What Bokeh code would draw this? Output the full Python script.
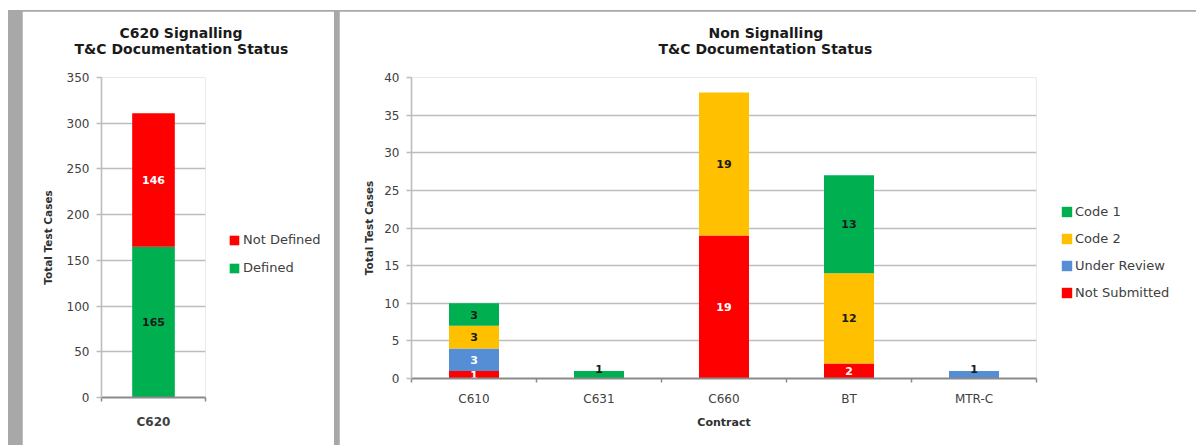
from bokeh.plotting import figure
from bokeh.models import (ColumnDataSource, Range1d, FixedTicker, Legend, LegendItem, Title)
from bokeh.layouts import row
from bokeh.embed import file_html
from bokeh.resources import INLINE
from bokeh.core.properties import value

# ---------------- data ----------------
left_categories = ["C620"]
left_defined = [165]
left_not_defined = [146]
left_yticks = [0, 50, 100, 150, 200, 250, 300, 350]

right_categories = ["C610", "C631", "C660", "BT", "MTR-C"]
not_submitted = [1, 0, 19, 2, 0]
under_review = [3, 0, 0, 0, 1]
code_2 = [3, 0, 19, 12, 0]
code_1 = [3, 1, 0, 13, 0]
right_yticks = [0, 5, 10, 15, 20, 25, 30, 35, 40]

# ---------------- style ----------------
FONT = "DejaVu Sans"
GRID = "#bdbdbd"
AXIS_DARK = "#8a8a8a"
TEXT = "#404040"
RED = "#ff0000"
GREEN = "#00b050"
YELLOW = "#ffc000"
BLUE = "#558ed5"
FRAME_BG = "#a8a8a8"


def base_style(p, yticks, ncat, cats, ystandoff):
    p.xgrid.grid_line_color = None
    p.ygrid.ticker = FixedTicker(ticks=yticks)
    p.ygrid.grid_line_color = GRID
    p.ygrid.grid_line_width = 1.6
    p.yaxis.ticker = FixedTicker(ticks=yticks)
    p.yaxis.axis_line_color = GRID
    p.yaxis.axis_line_width = 1.6
    p.yaxis.major_tick_line_color = GRID
    p.yaxis.major_tick_line_width = 1.6
    p.yaxis.major_tick_out = 5
    p.yaxis.major_tick_in = 0
    p.yaxis.minor_tick_line_color = None
    p.yaxis.major_label_standoff = 7
    p.yaxis.major_label_text_font = FONT
    p.yaxis.major_label_text_font_size = "12px"
    p.yaxis.major_label_text_color = TEXT
    p.yaxis.axis_label = "Total Test Cases"
    p.yaxis.axis_label_text_font = FONT
    p.yaxis.axis_label_text_font_size = "10.5px"
    p.yaxis.axis_label_text_font_style = "bold"
    p.yaxis.axis_label_text_color = "#303030"
    p.yaxis.axis_label_standoff = ystandoff

    centers = [i + 0.5 for i in range(ncat)]
    p.xaxis.ticker = FixedTicker(ticks=centers, minor_ticks=list(range(ncat + 1)))
    p.xaxis.major_label_overrides = {c: lab for c, lab in zip(centers, cats)}
    p.xaxis.axis_line_color = AXIS_DARK
    p.xaxis.axis_line_width = 2
    p.xaxis.major_tick_line_color = None
    p.xaxis.major_tick_out = 0
    p.xaxis.major_tick_in = 0
    p.xaxis.minor_tick_line_color = AXIS_DARK
    p.xaxis.minor_tick_line_width = 1.5
    p.xaxis.minor_tick_out = 4
    p.xaxis.minor_tick_in = 0
    p.xaxis.major_label_text_font = FONT
    p.xaxis.major_label_text_font_size = "12px"
    p.xaxis.major_label_text_color = TEXT
    p.outline_line_color = None
    p.background_fill_color = "white"
    p.border_fill_color = "white"


def add_titles(p, line1, line2, off1, off2):
    # line2 sits nearest the frame, line1 is stacked above it
    p.add_layout(Title(text=line2, align="left", offset=off2, standoff=42,
                       text_font=FONT, text_font_size="14px", text_font_style="bold",
                       text_color="#1a1a1a"), "above")
    p.add_layout(Title(text=line1, align="left", offset=off1, standoff=-46,
                       text_font=FONT, text_font_size="14px", text_font_style="bold",
                       text_color="#1a1a1a"), "above")


def stacked(p, cats, series, colors, label_colors, width):
    xs = [i + 0.5 for i in range(len(cats))]
    bottoms = [0] * len(cats)
    totals = [sum(v) for v in zip(*series)]
    rends = []
    lx, ly, lt, lc, lo = [], [], [], [], []
    for vals, col, tcol in zip(series, colors, label_colors):
        tops = [b + v for b, v in zip(bottoms, vals)]
        src = ColumnDataSource(dict(x=xs, bottom=bottoms, top=tops))
        r = p.vbar(x="x", bottom="bottom", top="top", width=width, source=src,
                   fill_color=col, line_color=None)
        rends.append(r)
        for x, b, v, t in zip(xs, bottoms, vals, totals):
            if v > 0:
                small_top = (b + v == t) and v < 2
                lx.append(x); ly.append(b + v / 2); lt.append(str(v))
                lc.append("#1a1a1a" if small_top else tcol)
                lo.append(-6 if small_top else 0)
        bottoms = tops
    lsrc = ColumnDataSource(dict(x=lx, y=ly, text=lt, color=lc, off=lo))
    p.text(x="x", y="y", text="text", source=lsrc, text_color="color", y_offset="off",
           text_font=value(FONT), text_font_size="11px", text_font_style="bold",
           text_align="center", text_baseline="middle")
    return rends


def make_legend(items, loc, glyph, standoff, spacing):
    return Legend(items=items, location=loc, padding=0, margin=0,
                  border_line_color=None, background_fill_alpha=0,
                  glyph_width=glyph, glyph_height=glyph, label_height=13,
                  label_standoff=standoff, spacing=spacing,
                  label_text_font=FONT, label_text_font_size="13px",
                  label_text_color=TEXT)


# ---------------- left chart ----------------
p1 = figure(frame_width=104, frame_height=320, x_range=Range1d(0, len(left_categories)),
            y_range=Range1d(0, 350), output_backend="svg", toolbar_location=None,
            title=None, min_border_left=79, min_border_right=129,
            min_border_top=66, min_border_bottom=48)
base_style(p1, left_yticks, len(left_categories), left_categories, 10)
p1.xaxis.major_label_text_font_style = "bold"
p1.xaxis.major_label_standoff = 13
add_titles(p1, "C620 Signalling", "T&C Documentation Status", 18, -27)
r_def, r_nd = stacked(p1, left_categories, [left_defined, left_not_defined],
                      [GREEN, RED], ["#1a1a1a", "white"], 0.41)
leg1 = make_legend([LegendItem(label="Not Defined", renderers=[r_nd]),
                    LegendItem(label="Defined", renderers=[r_def])],
                   (23, 122), 12, 3, 13)
p1.add_layout(leg1, "right")

# ---------------- right chart ----------------
p2 = figure(frame_width=625, frame_height=301, x_range=Range1d(0, len(right_categories)),
            y_range=Range1d(0, 40), output_backend="svg", toolbar_location=None,
            title=None, min_border_left=72, min_border_right=148,
            min_border_top=66, min_border_bottom=67)
base_style(p2, right_yticks, len(right_categories), right_categories, 6)
p2.xaxis.major_label_standoff = 9
p2.xaxis.axis_label = "Contract"
p2.xaxis.axis_label_text_font = FONT
p2.xaxis.axis_label_text_font_size = "11px"
p2.xaxis.axis_label_text_font_style = "bold"
p2.xaxis.axis_label_text_color = "#303030"
p2.xaxis.axis_label_standoff = 7
add_titles(p2, "Non Signalling", "T&C Documentation Status", 297, 247)
r_ns, r_ur, r_c2, r_c1 = stacked(p2, right_categories,
                                 [not_submitted, under_review, code_2, code_1],
                                 [RED, BLUE, YELLOW, GREEN],
                                 ["white", "white", "#1a1a1a", "#1a1a1a"], 0.4)
leg2 = make_legend([LegendItem(label="Code 1", renderers=[r_c1]),
                    LegendItem(label="Code 2", renderers=[r_c2]),
                    LegendItem(label="Under Review", renderers=[r_ur]),
                    LegendItem(label="Not Submitted", renderers=[r_ns])],
                   (24, 78), 13, 2, 12)
p2.add_layout(leg2, "right")

p1.margin = (1, 0, 0, 14)
p2.margin = (1, 12, 0, 0)
layout = row(p1, p2, spacing=5, styles={"background-color": FRAME_BG})
layout.margin = (10, 0, 0, 8)

open("out.html", "w").write(file_html(layout, INLINE))
